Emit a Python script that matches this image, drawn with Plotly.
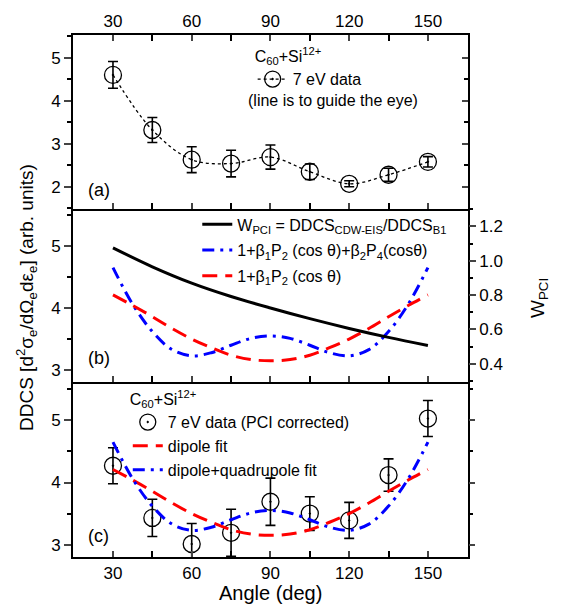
import plotly.graph_objects as go

# ---------------- data ----------------
angles = [30, 45, 60, 75, 90, 105, 120, 135, 150]
ddcs_raw = [4.60, 3.32, 2.63, 2.54, 2.69, 2.35, 2.07, 2.28, 2.58]
ddcs_raw_err = [0.31, 0.29, 0.30, 0.31, 0.28, 0.18, 0.07, 0.15, 0.12]
ddcs_corr = [4.27, 3.43, 3.01, 3.19, 3.69, 3.50, 3.39, 4.12, 5.03]
ddcs_corr_err = [0.29, 0.30, 0.33, 0.38, 0.38, 0.27, 0.29, 0.26, 0.29]
w_pci = [1.075, 0.965, 0.870, 0.792, 0.725, 0.663, 0.606, 0.554, 0.507]

fit_angles = [30, 37.5, 45, 52.5, 60, 67.5, 75, 82.5, 90, 97.5, 105, 112.5,
              120, 127.5, 135, 142.5, 150]
dipole_fit = [4.21, 4.04, 3.86, 3.67, 3.50, 3.36, 3.24, 3.17, 3.15, 3.17,
              3.24, 3.36, 3.50, 3.67, 3.86, 4.04, 4.21]
quad_fit = [4.65, 4.06, 3.62, 3.33, 3.23, 3.28, 3.40, 3.51, 3.55, 3.51,
            3.40, 3.28, 3.23, 3.33, 3.62, 4.06, 4.65]

x_tick_step = 30
x_minor_step = 15

# ---------------- style ----------------
FONT = "Arial, 'Liberation Sans', sans-serif"
TICK_FS = 17
LEG_FS = 16
X_RANGE = [14.76, 165.24]
X_DOM = [0.115, 0.814]
DOM_A = [0.668, 0.955]
DOM_B = [0.383, 0.668]
DOM_C = [0.094, 0.383]
LW = 1.5

fig = go.Figure()

# panel (a)
fig.add_trace(go.Scatter(
    x=angles, y=ddcs_raw, xaxis="x3", yaxis="y3",
    mode="lines+markers", name="7 eV data", legend="legend",
    line=dict(color="black", width=1.3, dash="dot", shape="spline"),
    marker=dict(symbol="circle-open-dot", size=17, color="black",
                line=dict(width=1.3, color="black")),
    error_y=dict(type="data", array=ddcs_raw_err, color="black",
                 thickness=1.6, width=5),
))

# panel (b)
fig.add_trace(go.Scatter(
    x=angles, y=w_pci, xaxis="x2", yaxis="y5", mode="lines",
    name="W<sub>PCI</sub> = DDCS<sub>CDW-EIS</sub>/DDCS<sub>B1</sub>",
    legend="legend2", legendgroup="g1",
    line=dict(color="black", width=3, shape="spline"),
))
fig.add_trace(go.Scatter(
    x=fit_angles, y=quad_fit, xaxis="x2", yaxis="y2", mode="lines",
    name="1+β<sub>1</sub>P<sub>2</sub> (cos θ)+β<sub>2</sub>P<sub>4</sub>(cosθ)",
    legend="legend2", legendgroup="g2",
    line=dict(color="#0000ff", width=3, dash="12px,6px,3px,6px", shape="spline"),
))
fig.add_trace(go.Scatter(
    x=fit_angles, y=dipole_fit, xaxis="x2", yaxis="y2", mode="lines",
    name="1+β<sub>1</sub>P<sub>2</sub> (cos θ)",
    legend="legend2", legendgroup="g3",
    line=dict(color="#ff0000", width=3, dash="15px,8px", shape="spline"),
))

# panel (c)
fig.add_trace(go.Scatter(
    x=angles, y=ddcs_corr, xaxis="x", yaxis="y", mode="markers",
    name="7 eV data (PCI corrected)", legend="legend3", legendgroup="h1",
    marker=dict(symbol="circle-open-dot", size=17, color="black",
                line=dict(width=1.3, color="black")),
    error_y=dict(type="data", array=ddcs_corr_err, color="black",
                 thickness=1.6, width=5),
))
fig.add_trace(go.Scatter(
    x=fit_angles, y=dipole_fit, xaxis="x", yaxis="y", mode="lines",
    name="dipole fit", legend="legend3", legendgroup="h2",
    line=dict(color="#ff0000", width=3, dash="15px,8px", shape="spline"),
))
fig.add_trace(go.Scatter(
    x=fit_angles, y=quad_fit, xaxis="x", yaxis="y", mode="lines",
    name="dipole+quadrupole fit", legend="legend3", legendgroup="h3",
    line=dict(color="#0000ff", width=3, dash="12px,6px,3px,6px", shape="spline"),
))

# empty traces to materialize the right-side tick axes
fig.add_trace(go.Scatter(x=[None], y=[None], xaxis="x", yaxis="y4",
                         showlegend=False, hoverinfo="skip"))
fig.add_trace(go.Scatter(x=[None], y=[None], xaxis="x3", yaxis="y6",
                         showlegend=False, hoverinfo="skip"))

common_x = dict(range=X_RANGE, domain=X_DOM, tick0=0, dtick=x_tick_step,
                ticks="inside", ticklen=6, tickwidth=LW,
                minor=dict(dtick=x_minor_step, ticks="inside", ticklen=6,
                           tickwidth=LW, tickcolor="black", showgrid=False),
                showline=True, linewidth=LW, linecolor="black",
                showgrid=False, zeroline=False, automargin=False,
                tickfont=dict(family=FONT, size=TICK_FS, color="black"))

def yax(dom, rng, anchor):
    return dict(domain=dom, range=rng, anchor=anchor, dtick=1, ticks="outside",
                ticklen=7, tickwidth=LW, showline=True, linewidth=LW,
                linecolor="black", mirror=True, showgrid=False, zeroline=False,
                automargin=False,
                minor=dict(dtick=0.5, ticks="outside", ticklen=4, tickwidth=LW,
                           tickcolor="black", showgrid=False),
                tickfont=dict(family=FONT, size=TICK_FS, color="black"))

fig.update_layout(
    width=565, height=606,
    margin=dict(l=0, r=0, t=0, b=0),
    paper_bgcolor="white", plot_bgcolor="white",
    font=dict(family=FONT, color="black"),
    xaxis=dict(**common_x, anchor="y", mirror=False, side="bottom"),
    xaxis2=dict(**common_x, anchor="y2", matches="x", mirror=False,
                showticklabels=False),
    xaxis3=dict(**common_x, anchor="y3", matches="x", mirror="ticks",
                side="top"),
    yaxis=yax(DOM_C, [2.80, 5.62], "x"),
    yaxis2=yax(DOM_B, [2.81, 5.59], "x2"),
    yaxis3=yax(DOM_A, [1.48, 5.52], "x3"),
    yaxis4=dict(overlaying="y", anchor="x", side="right", range=[2.80, 5.62],
                dtick=1, ticks="outside", ticklen=6, tickwidth=LW,
                showticklabels=False, showline=False, showgrid=False,
                zeroline=False,
                minor=dict(dtick=0.5, ticks="outside", ticklen=4, tickwidth=LW,
                           tickcolor="black")),
    yaxis6=dict(overlaying="y3", anchor="x3", side="right", range=[1.48, 5.52],
                dtick=1, ticks="inside", ticklen=6, tickwidth=LW,
                showticklabels=False, showline=False, showgrid=False,
                zeroline=False,
                minor=dict(dtick=0.5, ticks="inside", ticklen=4, tickwidth=LW,
                           tickcolor="black")),
    yaxis5=dict(overlaying="y2", anchor="x2", side="right", range=[0.295, 1.30],
                tick0=0.4, dtick=0.2, tickformat=".1f", ticks="outside",
                ticklen=7, tickwidth=LW, showline=False, showgrid=False,
                zeroline=False, automargin=False,
                minor=dict(dtick=0.1, ticks="outside", ticklen=4, tickwidth=LW,
                           tickcolor="black"),
                tickfont=dict(family=FONT, size=TICK_FS, color="black")),
    legend=dict(x=0.433, y=0.945, xanchor="left", yanchor="top",
                bgcolor="rgba(0,0,0,0)", borderwidth=0,
                font=dict(family=FONT, size=LEG_FS, color="black"),
                title=dict(text="C<sub>60</sub>+Si<sup>12+</sup>",
                           font=dict(family=FONT, size=LEG_FS, color="black"))),
    legend2=dict(x=0.335, y=0.671, xanchor="left", yanchor="top",
                 bgcolor="rgba(0,0,0,0)", borderwidth=0, tracegroupgap=2,
                 font=dict(family=FONT, size=LEG_FS, color="black")),
    legend3=dict(x=0.212, y=0.379, xanchor="left", yanchor="top",
                 bgcolor="rgba(0,0,0,0)", borderwidth=0, tracegroupgap=0,
                 font=dict(family=FONT, size=LEG_FS, color="black"),
                 title=dict(text="C<sub>60</sub>+Si<sup>12+</sup>",
                            font=dict(family=FONT, size=LEG_FS, color="black"))),
    showlegend=True,
)

annotations = [
    dict(text="(line is to guide the eye)", x=238 / 565, y=1 - 92 / 606,
         xanchor="left", yanchor="middle", font=dict(size=LEG_FS)),
    dict(text="(a)", x=78 / 565, y=1 - 182 / 606, xanchor="left",
         yanchor="middle", font=dict(size=18)),
    dict(text="(b)", x=78 / 565, y=1 - 350 / 606, xanchor="left",
         yanchor="middle", font=dict(size=18)),
    dict(text="(c)", x=78 / 565, y=1 - 528 / 606, xanchor="left",
         yanchor="middle", font=dict(size=18)),
    dict(text="DDCS [d<sup>2</sup>σ<sub>e</sub>/dΩ<sub>e</sub>dε<sub>e</sub>] (arb. units)",
         x=18 / 565, y=1 - 290 / 606, textangle=-90, xanchor="center",
         yanchor="middle", font=dict(size=19)),
    dict(text="W<sub>PCI</sub>", x=531 / 565, y=1 - 290 / 606, textangle=-90,
         xanchor="center", yanchor="middle", font=dict(size=19)),
    dict(text="Angle (deg)", x=262 / 565, y=1 - 585 / 606, xanchor="center",
         yanchor="middle", font=dict(size=20)),
]
for a in annotations:
    a.update(xref="paper", yref="paper", showarrow=False)
    a["font"].update(family=FONT, color="black")
fig.update_layout(annotations=annotations)

fig.write_html("out.html")
